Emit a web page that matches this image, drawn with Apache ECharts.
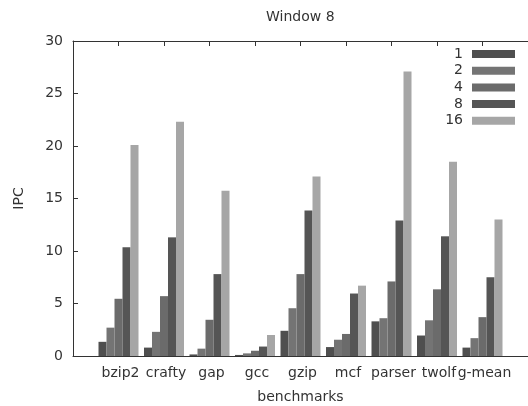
<!DOCTYPE html>
<html>
<head>
<meta charset="utf-8">
<script src="https://cdn.jsdelivr.net/npm/echarts@6/dist/echarts.min.js"></script>
<style>
  html, body { margin: 0; padding: 0; background: #fff; }
  #chart { width: 528px; height: 406px; }
</style>
</head>
<body>
<div id="chart"></div>
<script>
    // benchmarks, padded with an empty slot at each end (like the xrange of the original)
    const benchmarks = ['', 'bzip2', 'crafty', 'gap', 'gcc', 'gzip', 'mcf', 'parser', 'twolf', 'g-mean', ''];
    const seriesNames = ['1', '2', '4', '8', '16'];
    const colors = ['#4f4f4f', '#747474', '#6b6b6b', '#555555', '#a6a6a6'];

    // IPC values per window setting
    const ipc1  = ['-', 1.35, 0.8, 0.15, 0.1, 2.4, 0.85, 3.3, 1.95, 0.8, '-'];
    const ipc2  = ['-', 2.7, 2.3, 0.7, 0.25, 4.55, 1.55, 3.6, 3.4, 1.7, '-'];
    const ipc4  = ['-', 5.45, 5.7, 3.45, 0.5, 7.8, 2.1, 7.1, 6.35, 3.7, '-'];
    const ipc8  = ['-', 10.35, 11.3, 7.8, 0.9, 13.85, 5.95, 12.9, 11.4, 7.5, '-'];
    const ipc16 = ['-', 20.1, 22.3, 15.75, 2.0, 17.1, 6.7, 27.1, 18.5, 13.0, '-'];
    const allData = [ipc1, ipc2, ipc4, ipc8, ipc16];

    const yTicks = { min: 0, max: 30, interval: 5 };

    const font = 'DejaVu Sans';
    const myChart = echarts.init(document.getElementById('chart'));

    const option = {
        animation: false,
        title: {
            text: 'Window 8',
            left: 261,
            top: 5,
            textStyle: { fontFamily: font, fontSize: 14, fontWeight: 'normal', color: '#333' }
        },
        grid: { left: 73, right: 0, top: 41, bottom: 50, outerBoundsMode: 'none' },
        legend: {
            orient: 'vertical',
            align: 'right',
            right: 8,
            top: 42,
            itemWidth: 43,
            itemHeight: 8,
            itemGap: 2.7,
            icon: 'rect',
            textStyle: { fontFamily: font, fontSize: 14, color: '#333', lineHeight: 14, padding: [0, 4, 0, 0] },
            data: seriesNames
        },
        xAxis: [
            {
                type: 'category',
                data: benchmarks,
                boundaryGap: false,
                name: 'benchmarks',
                nameLocation: 'middle',
                nameGap: 34,
                nameTextStyle: { fontFamily: font, fontSize: 14, color: '#333' },
                axisLine: { lineStyle: { color: '#333' } },
                axisTick: { show: false },
                axisLabel: { fontFamily: font, fontSize: 14, color: '#333', margin: 10, interval: 0, padding: [0, 0, 0, 4] },
                splitLine: { show: false }
            },
            {
                type: 'category',
                data: benchmarks,
                boundaryGap: false,
                position: 'top',
                axisLine: { show: true, lineStyle: { color: '#333' } },
                axisTick: {
                    inside: true,
                    length: 5,
                    interval: (i) => i > 0 && i < benchmarks.length - 1,
                    lineStyle: { color: '#333' }
                },
                axisLabel: { show: false },
                splitLine: { show: false }
            }
        ],
        yAxis: {
            type: 'value',
            min: yTicks.min,
            max: yTicks.max,
            interval: yTicks.interval,
            name: 'IPC',
            nameLocation: 'middle',
            nameGap: 47,
            nameTextStyle: { fontFamily: font, fontSize: 14, color: '#333' },
            axisLine: { show: true, lineStyle: { color: '#333' } },
            axisTick: { show: true, inside: true, length: 5, lineStyle: { color: '#333' } },
            axisLabel: { fontFamily: font, fontSize: 14, color: '#333', margin: 10 },
            splitLine: { show: false }
        },
        series: seriesNames.map((name, i) => ({
            name: name,
            type: 'bar',
            xAxisIndex: 0,
            data: allData[i],
            barWidth: 8,
            barGap: '0%',
            itemStyle: { color: colors[i] }
        }))
    };

    myChart.setOption(option);
</script>
</body>
</html>
